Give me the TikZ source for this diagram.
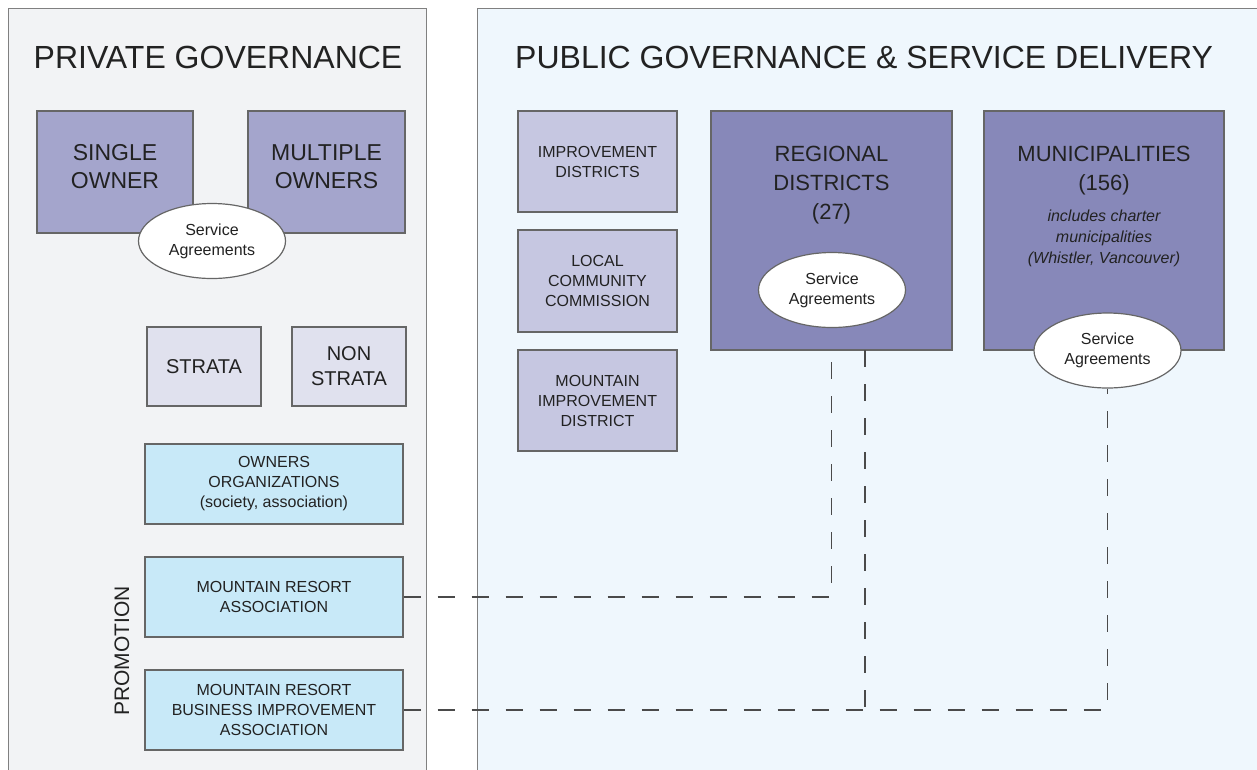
\documentclass[tikz,border=0pt]{standalone}
\usepackage{fontspec}
\setmainfont{Liberation Sans}
\usetikzlibrary{shapes.geometric}
\definecolor{privbg}{HTML}{F2F3F5}
\definecolor{pubbg}{HTML}{EFF7FD}
\definecolor{ownfill}{HTML}{A4A5CC}
\definecolor{stratafill}{HTML}{E0E1EE}
\definecolor{bluefill}{HTML}{C8E9F8}
\definecolor{distfill}{HTML}{C6C7E1}
\definecolor{bigfill}{HTML}{8788B9}
\definecolor{panelline}{HTML}{808080}
\definecolor{boxline}{HTML}{666666}
\definecolor{txt}{HTML}{222222}
\definecolor{dashc}{HTML}{4A4A4A}
\tikzset{
  panel/.style={draw=panelline, line width=1pt},
  box/.style={draw=boxline, line width=1.2pt, rectangle, inner sep=0pt, align=center, text=txt},
  agree/.style={ellipse, draw=boxline, line width=1.2pt, fill=white, inner sep=0pt,
     minimum width=147pt, minimum height=75pt, align=center, text=txt,
     font=\fontsize{16}{20}\selectfont},
  conn/.style={draw=dashc, line width=1.3pt, dash pattern=on 17pt off 17pt},
  ttl/.style={text=txt, font=\fontsize{32}{38}\selectfont, inner sep=0pt}
}
\begin{document}
\begin{tikzpicture}[x=1pt,y=-1pt]
\useasboundingbox (0,0) rectangle (1257,769);
\clip (0,0) rectangle (1257,769);
% panels
\draw[panel, fill=privbg] (8,790) -- (8,8) -- (426,8) -- (426,790);
\draw[panel, fill=pubbg] (477,790) -- (477,8) -- (1280,8) -- (1280,790);
\node[ttl, anchor=base] (ptitle) at (218,68) {PRIVATE GOVERNANCE};
\node[ttl, anchor=base west] (pubtitle) at (515,68) {PUBLIC GOVERNANCE \& SERVICE DELIVERY};
% private side
\node[box, fill=ownfill, minimum width=156pt, minimum height=122pt] (single) at (115,172) {};
\node[text=txt, align=center, inner sep=0pt, font=\fontsize{23}{28}\selectfont]
  (singletext) at (115,167) {SINGLE\\OWNER};
\node[box, fill=ownfill, minimum width=157pt, minimum height=122pt] (multi) at (326.5,172) {};
\node[text=txt, align=center, inner sep=0pt, font=\fontsize{23}{28}\selectfont]
  (multitext) at (326.5,167) {MULTIPLE\\OWNERS};
\node[agree] (sa1) at (212,241) {Service\\Agreements};
\node[box, fill=stratafill, minimum width=114pt, minimum height=79pt,
  font=\fontsize{20}{25}\selectfont] (strata) at (204,366.5) {STRATA};
\node[box, fill=stratafill, minimum width=114pt, minimum height=79pt,
  font=\fontsize{20}{25}\selectfont] (nonstrata) at (349,366.5) {NON\\STRATA};
\node[box, fill=bluefill, minimum width=258pt, minimum height=80pt,
  font=\fontsize{16}{20}\selectfont] (owners) at (274,484) {OWNERS\\ORGANIZATIONS\\(society, association)};
\node[box, fill=bluefill, minimum width=258pt, minimum height=80pt,
  font=\fontsize{16}{20}\selectfont] (mra) at (274,597) {MOUNTAIN RESORT\\ASSOCIATION};
\node[box, fill=bluefill, minimum width=258pt, minimum height=80pt,
  font=\fontsize{16}{20}\selectfont] (mrbia) at (274,710) {MOUNTAIN RESORT\\BUSINESS IMPROVEMENT\\ASSOCIATION};
\node[rotate=90, text=txt, font=\fontsize{21}{25}\selectfont, inner sep=0pt] (promo) at (122,651) {PROMOTION};
% public side
\node[box, fill=distfill, minimum width=159pt, minimum height=101pt,
  font=\fontsize{16}{20}\selectfont] (impd) at (597.5,161.5) {IMPROVEMENT\\DISTRICTS};
\node[box, fill=distfill, minimum width=159pt, minimum height=102pt,
  font=\fontsize{16}{20}\selectfont] (lcc) at (597.5,281) {LOCAL\\COMMUNITY\\COMMISSION};
\node[box, fill=distfill, minimum width=159pt, minimum height=101pt,
  font=\fontsize{16}{20}\selectfont] (mid) at (597.5,400.5) {MOUNTAIN\\IMPROVEMENT\\DISTRICT};
\node[box, fill=bigfill, minimum width=241pt, minimum height=239pt] (reg) at (831.5,230.5) {};
\node[text=txt, align=center, anchor=north, inner sep=0pt,
  font=\fontsize{22}{29}\selectfont] (regtext) at (831.5,146) {REGIONAL\\DISTRICTS\\(27)};
\node[agree] (sa2) at (832,290) {Service\\Agreements};
\node[box, fill=bigfill, minimum width=240pt, minimum height=239pt] (muni) at (1104,230.5) {};
\node[text=txt, align=center, anchor=north, inner sep=0pt,
  font=\fontsize{22}{29}\selectfont] (munitext) at (1104,146) {MUNICIPALITIES\\(156)};
\node[text=txt, align=center, anchor=north, inner sep=0pt,
  font=\fontsize{16}{21}\itshape\selectfont] (muninote) at (1104,210) {includes charter\\municipalities\\(Whistler, Vancouver)};
\node[agree] (sa3) at (1107.5,350.5) {Service\\Agreements};
% connectors
\coordinate (j) at (865,710);
\coordinate (r2) at (865,350);
\draw[conn] (mra.east) -| (reg.south);
\draw[conn] (mrbia.east) -| (sa3.south);
\draw[conn] (r2) -- (j);
\end{tikzpicture}
\end{document}
